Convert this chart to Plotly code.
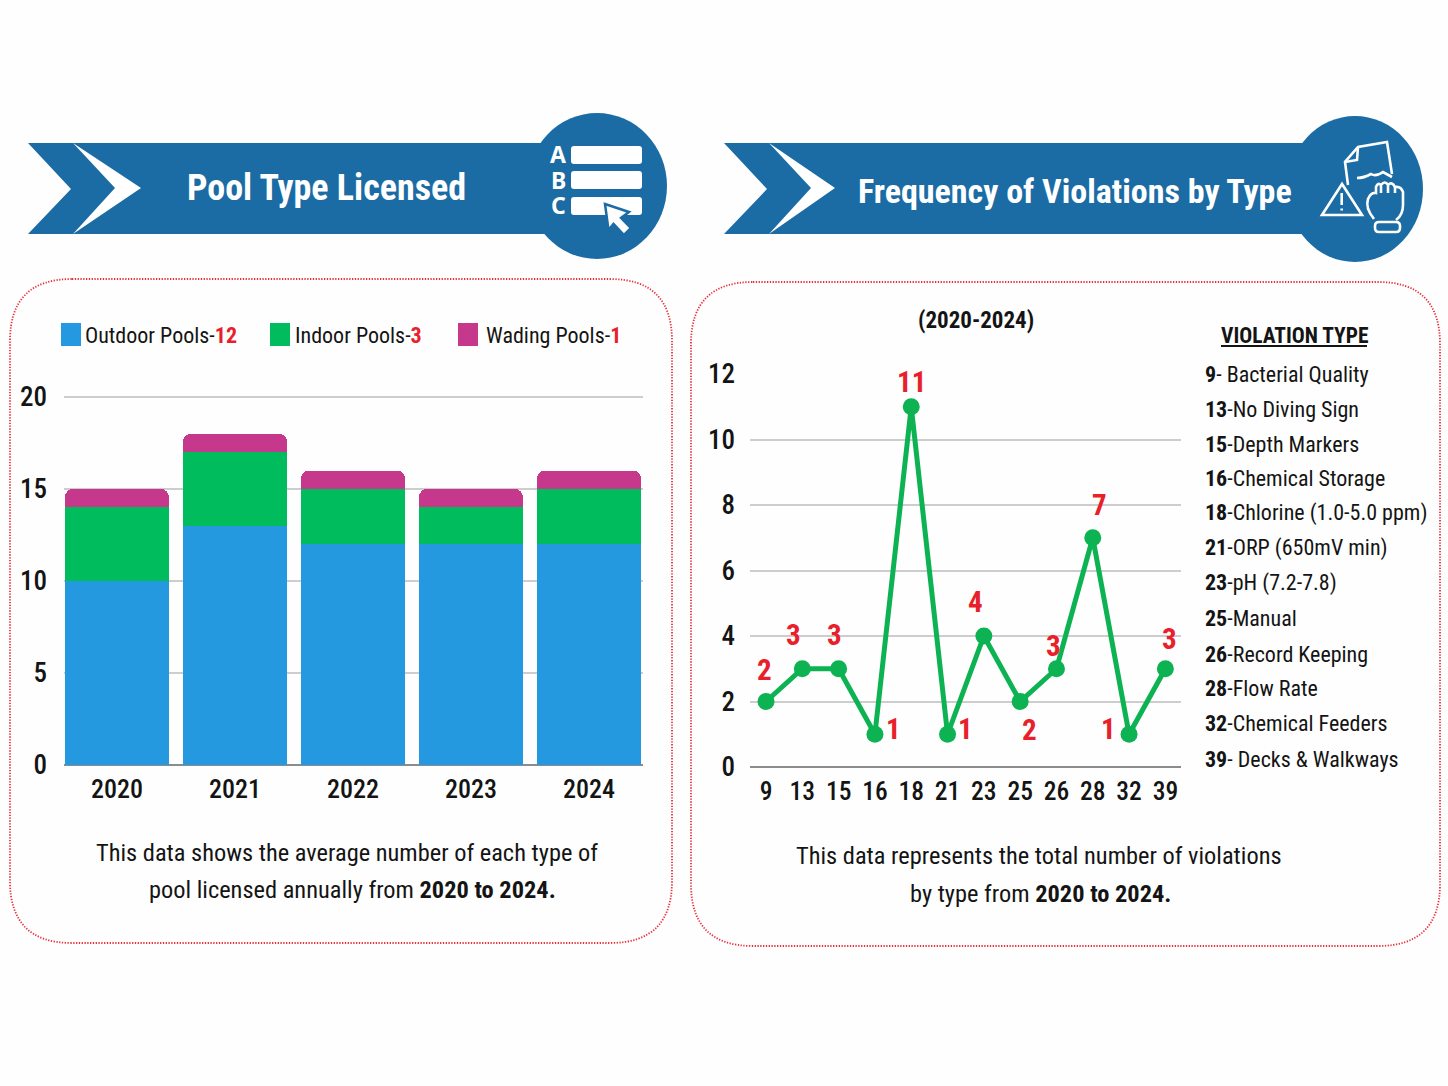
import re
import plotly.graph_objects as go

# Pool licensing by year
years = ["2020", "2021", "2022", "2023", "2024"]
outdoor_pools = [10, 13, 12, 12, 12]
indoor_pools = [4, 4, 3, 2, 3]
wading_pools = [1, 1, 1, 1, 1]

# Violation totals by code
violation_codes = ["9", "13", "15", "16", "18", "21", "23", "25", "26", "28", "32", "39"]
violation_counts = [2, 3, 3, 1, 11, 1, 4, 2, 3, 7, 1, 3]
violation_names = [
    "- Bacterial Quality", "-No Diving Sign", "-Depth Markers", "-Chemical Storage",
    "-Chlorine (1.0-5.0 ppm)", "-ORP (650mV min)", "-pH (7.2-7.8)", "-Manual",
    "-Record Keeping", "-Flow Rate", "-Chemical Feeders", "- Decks & Walkways",
]

W, H = 1448, 1086
FONT = "Roboto Condensed, Roboto, sans-serif"
INK = "#141414"
RED = "#E8202A"
BANNER = "#1B6CA4"
BLUE, GREEN, MAGENTA = "#2499DF", "#00BC5C", "#C5388C"
LINE_GREEN = "#0DB352"


def fx(x):
    return x / W


def fy(y):
    return 1 - y / H


def to_paper(d):
    """Convert an absolute pixel path into paper-fraction coordinates."""
    out, is_x = [], True
    for tok in re.findall(r"[A-Za-z]|-?[\d.]+", d):
        if tok.isalpha():
            out.append(tok)
            is_x = True
        else:
            out.append(f"{fx(float(tok)):.5f}" if is_x else f"{fy(float(tok)):.5f}")
            is_x = not is_x
    return " ".join(out)


def round_rect(x0, y0, x1, y1, r):
    return (f"M {x0+r} {y0} L {x1-r} {y0} Q {x1} {y0} {x1} {y0+r} L {x1} {y1-r} "
            f"Q {x1} {y1} {x1-r} {y1} L {x0+r} {y1} Q {x0} {y1} {x0} {y1-r} "
            f"L {x0} {y0+r} Q {x0} {y0} {x0+r} {y0} Z")


shapes = []


def add_path(d, fill=None, line=None, width=0, dash=None):
    spec = dict(color=line if line else "rgba(0,0,0,0)", width=width)
    if dash:
        spec["dash"] = dash
    shapes.append(dict(type="path", xref="paper", yref="paper", path=to_paper(d),
                       fillcolor=fill if fill else "rgba(0,0,0,0)", line=spec))


def add_ellipse(cx, cy, rx, ry, fill):
    shapes.append(dict(type="circle", xref="paper", yref="paper",
                       x0=fx(cx - rx), x1=fx(cx + rx), y0=fy(cy + ry), y1=fy(cy - ry),
                       fillcolor=fill, line=dict(width=0)))


annotations = []


def add_text(x, y, text, size, color=INK, anchor="center"):
    annotations.append(dict(xref="paper", yref="paper", x=fx(x), y=fy(y), text=text,
                            showarrow=False, xanchor=anchor, yanchor="middle",
                            font=dict(family=FONT, size=size, color=color)))


# Dotted panels
add_path(round_rect(10, 279, 672, 943, 62), line="#E8303A", width=1.8, dash="1.3px,1.5px")
add_path(round_rect(691, 282, 1440, 946, 62), line="#E8303A", width=1.8, dash="1.3px,1.5px")

# Banners with chevrons and end discs
for x0, notch, x1, chev0, chev1, chev2, cx, cy, rx in [
    (28, 71, 560, 73, 141, 115, 597, 186, 70),
    (724, 767, 1320, 769, 835, 811, 1355, 189, 68),
]:
    add_path(f"M {x0} 143 L {x1} 143 L {x1} 234 L {x0} 234 L {notch} 189 Z", fill=BANNER)
    add_ellipse(cx, cy, rx, 73, BANNER)
    add_path(f"M {chev0} 143 L {chev1} 188 L {chev0} 234 L {chev2} 188 Z", fill="#FFFFFF")

# Multiple-choice icon
for top in (146, 171, 197):
    add_path(round_rect(571, top, 642, top + 18, 3), fill="#FFFFFF")
add_path("M 605 204 L 629 212 L 621 218 L 631 228 L 624 235 L 613.5 224 L 608.5 230 Z",
         fill="#FFFFFF", line=BANNER, width=2.5)
for y, letter in zip((154, 180, 205), "ABC"):
    annotations.append(dict(xref="paper", yref="paper", x=fx(558), y=fy(y), text=f"<b>{letter}</b>",
                            showarrow=False, yanchor="middle",
                            font=dict(family="Noto Sans", size=23, color="#FFFFFF")))

# Torn paper, warning sign and hand icon
ICON = dict(line="#FFFFFF", width=2.6)
add_path("M 1348 185 L 1345 162 L 1358 147 L 1387 142 L 1392 174", **ICON)
add_path("M 1345 162 L 1357 160 L 1358 147", **ICON)
add_path("M 1357 178 Q 1364 178 1371 174 Q 1376 177 1383 172 L 1392 177", **ICON)
add_path("M 1342 184 L 1322 215 L 1362 215 Z", **ICON)
add_path("M 1341.7 193 L 1341.7 205", **ICON)
add_path("M 1341.7 208.5 L 1341.7 210.5", **ICON)
add_path("M 1374 219 Q 1365 208 1368 199 Q 1371 192 1376 193 L 1376 187 Q 1378 182 1381 185 "
         "Q 1385 180 1388 185 Q 1392 181 1395 187 Q 1401 186 1403 192 L 1403 205 Q 1403 215 1396 220", **ICON)
for finger_x in (1381, 1388, 1395):
    add_path(f"M {finger_x} 186 L {finger_x} 193", **ICON)
add_path(round_rect(1375, 222, 1400, 232, 4), **ICON)

# Banner titles
add_text(326, 188, "<b>Pool Type Licensed</b>", 36, "#FFFFFF")
add_text(1075, 191, "<b>Frequency of Violations by Type</b>", 34, "#FFFFFF")

# Bar-chart key
key = [
    (61, 83, BLUE, "Outdoor Pools-", "12"),
    (270, 293, GREEN, "Indoor Pools-", "3"),
    (458, 484, MAGENTA, "Wading Pools-", "1"),
]
for x0, tx, colour, label, num in key:
    shapes.append(dict(type="rect", xref="paper", yref="paper", x0=fx(x0), x1=fx(x0 + 20),
                       y0=fy(346), y1=fy(323), fillcolor=colour, line=dict(width=0)))
    add_text(tx, 335, f"{label}<span style='color:{RED}'><b>{num}</b></span>", 22, anchor="left")

# Captions
add_text(347, 852, "This data shows the average number of each type of", 24.4)
add_text(352, 889, "pool licensed annually from <b>2020 to 2024.</b>", 24.4)
add_text(1039, 855, "This data represents the total number of violations", 24.4)
add_text(1040, 893, "by type from <b>2020 to 2024.</b>", 24.4)

# Violation-code key
add_text(976, 321, "<b>(2020-2024)</b>", 23)
add_text(1294, 335, "<b>VIOLATION TYPE</b>", 21.5)
shapes.append(dict(type="line", xref="paper", yref="paper", x0=fx(1221), x1=fx(1367),
                   y0=fy(346), y1=fy(346), line=dict(color=INK, width=2)))
for code, name, y in zip(violation_codes, violation_names,
                         (374, 409, 444, 479, 513, 548, 583, 618, 654, 688, 723, 759)):
    add_text(1203, y, f"<b>{code}</b>{name}", 22, anchor="left")

# Counts beside the line, nudged off the markers
label_nudges = [(-2, 32), (-9, 34), (-4, 34), (19, 5), (0, 25), (18, 5),
                (-8, 34), (9, -28), (-3, 23), (7, 33), (-21, 5), (4, 30)]
for i, (count, (dx, dy)) in enumerate(zip(violation_counts, label_nudges)):
    annotations.append(dict(xref="x2", yref="y2", x=i, y=count, text=f"<b>{count}</b>",
                            showarrow=False, xshift=dx, yshift=dy,
                            font=dict(family=FONT, size=29, color=RED)))

fig = go.Figure()
for name, values, colour in [("Outdoor Pools", outdoor_pools, BLUE),
                             ("Indoor Pools", indoor_pools, GREEN),
                             ("Wading Pools", wading_pools, MAGENTA)]:
    fig.add_trace(go.Bar(x=years, y=values, name=name, marker=dict(color=colour, line=dict(width=0)),
                         xaxis="x", yaxis="y"))

fig.add_trace(go.Scatter(x=violation_codes, y=violation_counts, mode="lines+markers", name="Violations",
                         line=dict(color=LINE_GREEN, width=5), marker=dict(color=LINE_GREEN, size=17),
                         xaxis="x2", yaxis="y2"))

GRID = "#CDCDCD"
year_font = dict(family=FONT, size=26, color=INK, weight=500)
code_font = dict(family=FONT, size=25.5, color=INK, weight=500)
value_font = dict(family=FONT, size=27, color=INK, weight=500)
fig.update_layout(
    width=W, height=H, autosize=False,
    margin=dict(l=0, r=0, t=0, b=0, autoexpand=False),
    paper_bgcolor="#FEFEFE", plot_bgcolor="rgba(0,0,0,0)",
    showlegend=False, barmode="stack", bargap=0.119, barcornerradius=8,
    shapes=shapes, annotations=annotations,
    xaxis=dict(domain=[fx(64), fx(643)], type="category", range=[-0.449, 4.458], anchor="y",
               showgrid=False, showline=False, tickfont=year_font, ticks="", ticklabelstandoff=6),
    yaxis=dict(domain=[fy(765), fy(394)], range=[0, 20.16], anchor="x",
               tickvals=[0, 5, 10, 15, 20], gridcolor=GRID, gridwidth=1.5, zeroline=True,
               zerolinecolor="#8C8C8C", zerolinewidth=2, tickfont=value_font, ticks="",
               ticklabelstandoff=16),
    xaxis2=dict(domain=[fx(750), fx(1181)], type="category", range=[-0.441, 11.43], anchor="y2",
                showgrid=False, showline=False, tickfont=code_font, ticks="", ticklabelstandoff=6),
    yaxis2=dict(domain=[fy(767), fy(374)], range=[0, 12], anchor="x2",
                tickvals=[0, 2, 4, 6, 8, 10, 12], gridcolor=GRID, gridwidth=1.5, zeroline=True,
                zerolinecolor="#8C8C8C", zerolinewidth=2, tickfont=value_font, ticks="",
                ticklabelstandoff=14),
)

fig.write_html("out.html")
